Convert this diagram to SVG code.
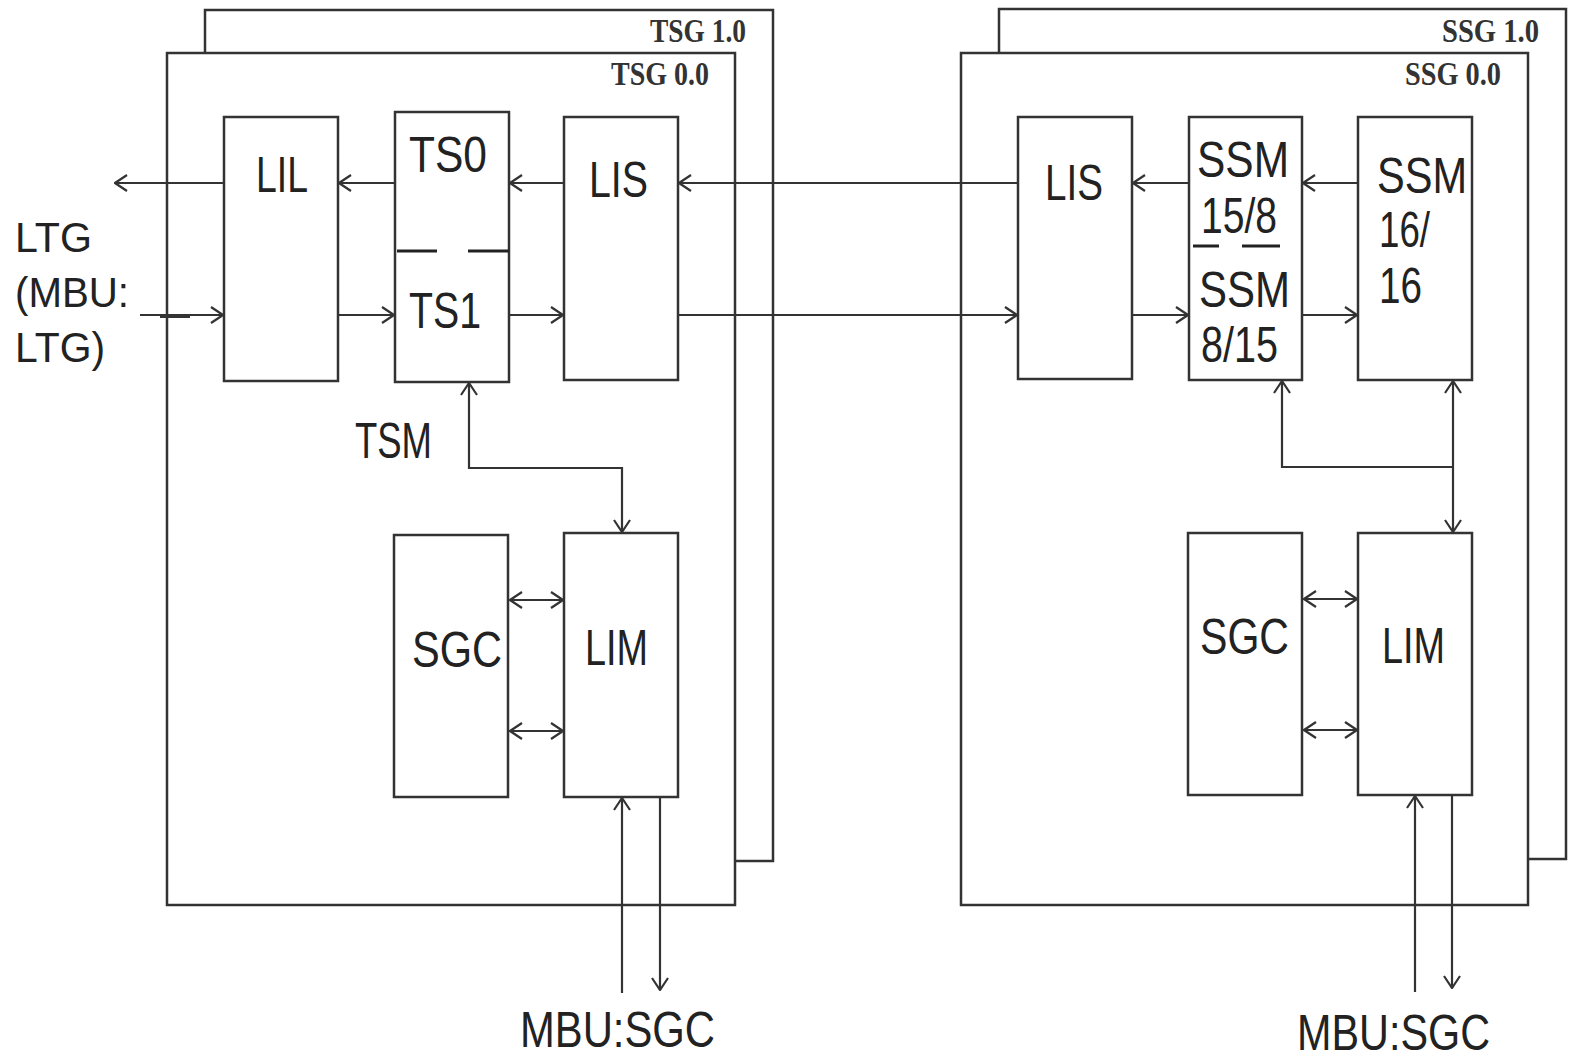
<svg xmlns="http://www.w3.org/2000/svg" width="1569" height="1061" viewBox="0 0 1569 1061">
<style>
.frame{fill:#fff;stroke:#333;stroke-width:2.5}
.box{fill:#fff;stroke:#333;stroke-width:2.5}
.dash{stroke:#222;stroke-width:3;fill:none}
.lbl{font-family:"Liberation Sans",Arial,sans-serif;font-size:50px;fill:#222}
.side{font-family:"Liberation Sans",Arial,sans-serif;font-size:42px;fill:#222}
.grp{font-family:"Liberation Serif","Times New Roman",serif;font-size:34px;font-weight:bold;fill:#333}
.con{fill:none;stroke:#333;stroke-width:2.2}
</style>
<defs>
<marker id="ah" markerUnits="userSpaceOnUse" markerWidth="14" markerHeight="18" viewBox="0 0 14 18" refX="13" refY="9" orient="auto-start-reverse">
<path d="M1,1 L13,9 L1,17" fill="none" stroke="#333" stroke-width="2.2"/>
</marker>
</defs>
<rect width="1569" height="1061" fill="#fff"/>

<g id="tsg10">
<rect class="frame" x="205" y="10" width="568" height="851"/>
<text class="grp" x="650" y="42" textLength="96" lengthAdjust="spacingAndGlyphs">TSG 1.0</text>
</g>
<g id="tsg00">
<rect class="frame" x="167" y="53" width="568" height="852"/>
<text class="grp" x="611" y="85" textLength="98" lengthAdjust="spacingAndGlyphs">TSG 0.0</text>
</g>
<g id="ssg10">
<rect class="frame" x="999" y="9" width="567" height="850"/>
<text class="grp" x="1442" y="42" textLength="97" lengthAdjust="spacingAndGlyphs">SSG 1.0</text>
</g>
<g id="ssg00">
<rect class="frame" x="961" y="53" width="567" height="852"/>
<text class="grp" x="1405" y="85" textLength="96" lengthAdjust="spacingAndGlyphs">SSG 0.0</text>
</g>

<g id="ltg">
<text class="side" x="15" y="252" textLength="77" lengthAdjust="spacingAndGlyphs">LTG</text>
<text class="side" x="15" y="307" textLength="114" lengthAdjust="spacingAndGlyphs">(MBU:</text>
<text class="side" x="15" y="362" textLength="90" lengthAdjust="spacingAndGlyphs">LTG)</text>
</g>

<g id="lil">
<rect class="box" x="224" y="117" width="114" height="264"/>
<text class="lbl" x="256" y="192" textLength="52" lengthAdjust="spacingAndGlyphs">LIL</text>
</g>
<g id="tsm">
<rect class="box" x="395" y="112" width="114" height="270"/>
<path class="dash" d="M397,251 H437 M468,251 H509"/>
<text class="lbl" x="409" y="172" textLength="78" lengthAdjust="spacingAndGlyphs">TS0</text>
<text class="lbl" x="409" y="328" textLength="72" lengthAdjust="spacingAndGlyphs">TS1</text>
<text class="lbl" x="355" y="458" textLength="77" lengthAdjust="spacingAndGlyphs">TSM</text>
</g>
<g id="lis-left">
<rect class="box" x="564" y="117" width="114" height="263"/>
<text class="lbl" x="589" y="197" textLength="59" lengthAdjust="spacingAndGlyphs">LIS</text>
</g>
<g id="sgc-left">
<rect class="box" x="394" y="535" width="114" height="262"/>
<text class="lbl" x="412" y="667" textLength="90" lengthAdjust="spacingAndGlyphs">SGC</text>
</g>
<g id="lim-left">
<rect class="box" x="564" y="533" width="114" height="264"/>
<text class="lbl" x="585" y="665" textLength="63" lengthAdjust="spacingAndGlyphs">LIM</text>
</g>
<text id="mbu-left" class="lbl" x="520" y="1047" textLength="195" lengthAdjust="spacingAndGlyphs">MBU:SGC</text>

<g id="lis-right">
<rect class="box" x="1018" y="117" width="114" height="262"/>
<text class="lbl" x="1045" y="200" textLength="58" lengthAdjust="spacingAndGlyphs">LIS</text>
</g>
<g id="ssm15-8">
<rect class="box" x="1189" y="117" width="113" height="263"/>
<path class="dash" d="M1193,246 H1219 M1242,246 H1280"/>
<text class="lbl" x="1197" y="177" textLength="92" lengthAdjust="spacingAndGlyphs">SSM</text>
<text class="lbl" x="1201" y="233" textLength="76" lengthAdjust="spacingAndGlyphs">15/8</text>
<text class="lbl" x="1199" y="307" textLength="91" lengthAdjust="spacingAndGlyphs">SSM</text>
<text class="lbl" x="1201" y="362" textLength="77" lengthAdjust="spacingAndGlyphs">8/15</text>
</g>
<g id="ssm16-16">
<rect class="box" x="1358" y="117" width="114" height="263"/>
<text class="lbl" x="1377" y="193" textLength="90" lengthAdjust="spacingAndGlyphs">SSM</text>
<text class="lbl" x="1379" y="247" textLength="51" lengthAdjust="spacingAndGlyphs">16/</text>
<text class="lbl" x="1379" y="303" textLength="43" lengthAdjust="spacingAndGlyphs">16</text>
</g>
<g id="sgc-right">
<rect class="box" x="1188" y="533" width="114" height="262"/>
<text class="lbl" x="1200" y="654" textLength="89" lengthAdjust="spacingAndGlyphs">SGC</text>
</g>
<g id="lim-right">
<rect class="box" x="1358" y="533" width="114" height="262"/>
<text class="lbl" x="1382" y="663" textLength="63" lengthAdjust="spacingAndGlyphs">LIM</text>
</g>
<text id="mbu-right" class="lbl" x="1297" y="1050" font-size="47" textLength="193" lengthAdjust="spacingAndGlyphs">MBU:SGC</text>

<g id="connectors" class="con">
<line x1="224" y1="183" x2="115" y2="183" marker-end="url(#ah)"/>
<line x1="395" y1="183" x2="339" y2="183" marker-end="url(#ah)"/>
<line x1="564" y1="183" x2="510" y2="183" marker-end="url(#ah)"/>
<line x1="1018" y1="183" x2="679" y2="183" marker-end="url(#ah)"/>
<line x1="1189" y1="183" x2="1133" y2="183" marker-end="url(#ah)"/>
<line x1="1358" y1="183" x2="1303" y2="183" marker-end="url(#ah)"/>
<line x1="140" y1="315" x2="223" y2="315" marker-end="url(#ah)"/>
<line x1="160" y1="316" x2="190" y2="316" stroke-width="4"/>
<line x1="338" y1="315" x2="394" y2="315" marker-end="url(#ah)"/>
<line x1="509" y1="315" x2="563" y2="315" marker-end="url(#ah)"/>
<line x1="678" y1="315" x2="1017" y2="315" marker-end="url(#ah)"/>
<line x1="1132" y1="315" x2="1188" y2="315" marker-end="url(#ah)"/>
<line x1="1302" y1="315" x2="1357" y2="315" marker-end="url(#ah)"/>
<polyline points="622,532 622,468 469,468 469,383" marker-start="url(#ah)" marker-end="url(#ah)"/>
<line x1="510" y1="600" x2="563" y2="600" marker-start="url(#ah)" marker-end="url(#ah)"/>
<line x1="510" y1="731" x2="563" y2="731" marker-start="url(#ah)" marker-end="url(#ah)"/>
<line x1="622" y1="993" x2="622" y2="798" marker-end="url(#ah)"/>
<line x1="660" y1="797" x2="660" y2="990" marker-end="url(#ah)"/>
<polyline points="1453,467 1282,467 1282,381" marker-end="url(#ah)"/>
<line x1="1453" y1="381" x2="1453" y2="532" marker-start="url(#ah)" marker-end="url(#ah)"/>
<line x1="1304" y1="599" x2="1357" y2="599" marker-start="url(#ah)" marker-end="url(#ah)"/>
<line x1="1304" y1="730" x2="1357" y2="730" marker-start="url(#ah)" marker-end="url(#ah)"/>
<line x1="1415" y1="992" x2="1415" y2="796" marker-end="url(#ah)"/>
<line x1="1452" y1="795" x2="1452" y2="988" marker-end="url(#ah)"/>
</g>
</svg>
